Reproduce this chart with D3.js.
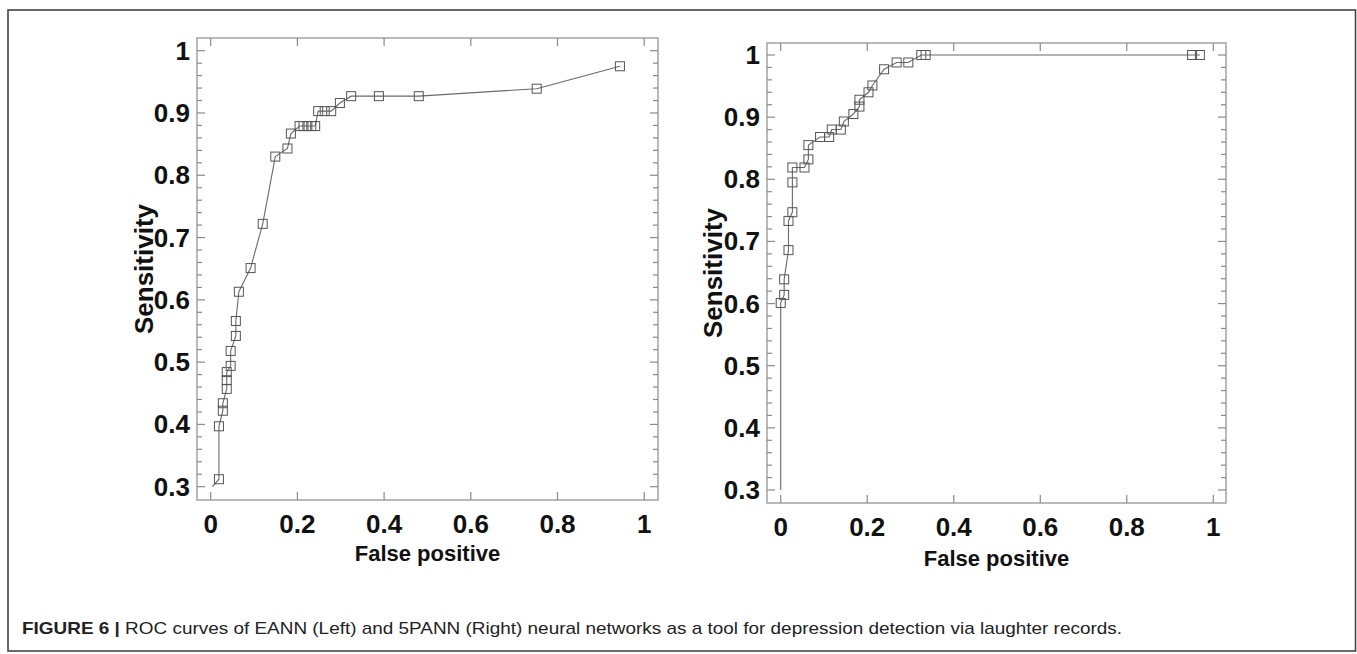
<!DOCTYPE html>
<html>
<head>
<meta charset="utf-8">
<script src="https://cdn.jsdelivr.net/npm/d3@7"></script>
<style>
  html, body { margin: 0; padding: 0; background: #fff; }
  svg { display: block; }
  text { font-family: "Liberation Sans", Arial, sans-serif; }
</style>
</head>
<body>
<svg id="chart" width="1357" height="654"></svg>
<script>
// ---------- data ----------
const xTicks = [0, 0.2, 0.4, 0.6, 0.8, 1];
const xTickLabels = ["0", "0.2", "0.4", "0.6", "0.8", "1"];
const yTicks = [0.3, 0.4, 0.5, 0.6, 0.7, 0.8, 0.9, 1];
const yTickLabels = ["0.3", "0.4", "0.5", "0.6", "0.7", "0.8", "0.9", "1"];
const xTitle = "False positive";
const yTitle = "Sensitivity";

// EANN (left)
const leftFpr  = [0.019, 0.019, 0.028, 0.028, 0.037, 0.037, 0.037, 0.046, 0.046, 0.058, 0.058, 0.065, 0.092, 0.120, 0.149, 0.177, 0.185, 0.205, 0.214, 0.223, 0.232, 0.241, 0.248, 0.263, 0.278, 0.298, 0.324, 0.388, 0.480, 0.752, 0.944];
const leftSens = [0.312, 0.397, 0.422, 0.434, 0.457, 0.471, 0.484, 0.494, 0.518, 0.542, 0.566, 0.613, 0.651, 0.722, 0.830, 0.843, 0.867, 0.879, 0.879, 0.879, 0.879, 0.879, 0.903, 0.903, 0.903, 0.916, 0.927, 0.927, 0.927, 0.939, 0.975];
const leftLineStart = [0.004, 0.3];

// 5PANN (right)
const rightFpr  = [0.000, 0.008, 0.008, 0.018, 0.018, 0.027, 0.027, 0.027, 0.055, 0.064, 0.064, 0.091, 0.112, 0.118, 0.139, 0.146, 0.168, 0.182, 0.182, 0.203, 0.212, 0.239, 0.268, 0.295, 0.325, 0.335, 0.951, 0.969];
const rightSens = [0.601, 0.614, 0.639, 0.686, 0.733, 0.747, 0.795, 0.819, 0.819, 0.832, 0.855, 0.868, 0.868, 0.880, 0.880, 0.893, 0.905, 0.917, 0.928, 0.940, 0.951, 0.977, 0.988, 0.988, 1.000, 1.000, 1.000, 1.000];
const rightLineStart = [0.0, 0.3];

const caption = { bold: "FIGURE 6 |", rest: " ROC curves of EANN (Left) and 5PANN (Right) neural networks as a tool for depression detection via laughter records." };

// ---------- layout ----------
const svg = d3.select("#chart");

// outer figure frame
svg.append("rect")
  .attr("x", 8).attr("y", 10).attr("width", 1347.5).attr("height", 641)
  .attr("fill", "none").attr("stroke", "#444").attr("stroke-width", 1.6);

const panels = [
  { fpr: leftFpr, sens: leftSens, start: leftLineStart,
    box: { l: 197, r: 658, t: 38, b: 500 },
    xr: [210.7, 644.2], yr: [486.7, 50.7],
    labelRight: 190, yTitleX: 144, xLabelY: 524, xTitleY: 553 },
  { fpr: rightFpr, sens: rightSens, start: rightLineStart,
    box: { l: 767, r: 1226, t: 43, b: 503 },
    xr: [780.7, 1213.3], yr: [490, 55],
    labelRight: 760, yTitleX: 713, xLabelY: 527, xTitleY: 558 }
];

const frameColor = "#a8a8a8";
const tickColor = "#8a8a8a";
const lineColor = "#6a6a6a";
const markerColor = "#555";

panels.forEach(p => {
  const g = svg.append("g");
  const x = d3.scaleLinear().domain([0, 1]).range(p.xr);
  const y = d3.scaleLinear().domain([0.3, 1]).range(p.yr);
  const B = p.box;

  // frame
  g.append("rect")
    .attr("x", B.l).attr("y", B.t).attr("width", B.r - B.l).attr("height", B.b - B.t)
    .attr("fill", "none").attr("stroke", frameColor).attr("stroke-width", 1.6);

  // y ticks (major every 0.1, minor every 0.02) on left and right sides
  const minor = d3.range(0, 36).map(i => +(0.3 + i * 0.02).toFixed(2));
  minor.forEach(v => {
    const isMajor = Math.abs(Math.round(v * 10) - v * 10) < 1e-6;
    const len = isMajor ? 8 : 5;
    g.append("line").attr("x1", B.l).attr("x2", B.l + len)
      .attr("y1", y(v)).attr("y2", y(v))
      .attr("stroke", tickColor).attr("stroke-width", 1.2);
    g.append("line").attr("x1", B.r).attr("x2", B.r - len)
      .attr("y1", y(v)).attr("y2", y(v))
      .attr("stroke", tickColor).attr("stroke-width", 1.2);
  });
  // x ticks top and bottom
  xTicks.forEach(v => {
    g.append("line").attr("x1", x(v)).attr("x2", x(v))
      .attr("y1", B.b).attr("y2", B.b - 8)
      .attr("stroke", tickColor).attr("stroke-width", 1.2);
    g.append("line").attr("x1", x(v)).attr("x2", x(v))
      .attr("y1", B.t).attr("y2", B.t + 8)
      .attr("stroke", tickColor).attr("stroke-width", 1.2);
  });

  // tick labels
  yTicks.forEach((v, i) => {
    g.append("text").attr("x", p.labelRight).attr("y", y(v))
      .attr("text-anchor", "end").attr("dominant-baseline", "central")
      .attr("font-size", 26).attr("font-weight", "bold").attr("fill", "#111")
      .text(yTickLabels[i]);
  });
  xTicks.forEach((v, i) => {
    g.append("text").attr("x", x(v)).attr("y", p.xLabelY)
      .attr("text-anchor", "middle").attr("dominant-baseline", "central")
      .attr("font-size", 26).attr("font-weight", "bold").attr("fill", "#111")
      .text(xTickLabels[i]);
  });

  // axis titles
  g.append("text").attr("x", (B.l + B.r) / 2).attr("y", p.xTitleY)
    .attr("text-anchor", "middle").attr("dominant-baseline", "central")
    .attr("font-size", 22).attr("font-weight", "bold").attr("fill", "#111")
    .text(xTitle);
  g.append("text")
    .attr("transform", `translate(${p.yTitleX},${(B.t + B.b) / 2}) rotate(-90)`)
    .attr("text-anchor", "middle").attr("dominant-baseline", "central")
    .attr("font-size", 26).attr("font-weight", "bold").attr("fill", "#111")
    .text(yTitle);

  // curve
  const pts = [p.start].concat(p.fpr.map((f, i) => [f, p.sens[i]]));
  const line = d3.line().x(d => x(d[0])).y(d => y(d[1]));
  g.append("path").attr("d", line(pts))
    .attr("fill", "none").attr("stroke", lineColor).attr("stroke-width", 1.1);

  // markers
  g.selectAll("rect.m").data(p.fpr.map((f, i) => [f, p.sens[i]])).enter()
    .append("rect").attr("class", "m")
    .attr("x", d => x(d[0]) - 4.5).attr("y", d => y(d[1]) - 4.5)
    .attr("width", 9).attr("height", 9)
    .attr("fill", "none").attr("stroke", markerColor).attr("stroke-width", 1);
});

// caption
const cap = svg.append("text").attr("x", 22).attr("y", 634)
  .attr("font-family", "'Liberation Sans Narrow', 'Liberation Sans', Arial, sans-serif")
  .attr("font-size", 17).attr("fill", "#222")
  .attr("textLength", 1100).attr("lengthAdjust", "spacingAndGlyphs");
cap.append("tspan").attr("font-weight", "bold").text(caption.bold);
cap.append("tspan").text(caption.rest);
</script>
</body>
</html>
